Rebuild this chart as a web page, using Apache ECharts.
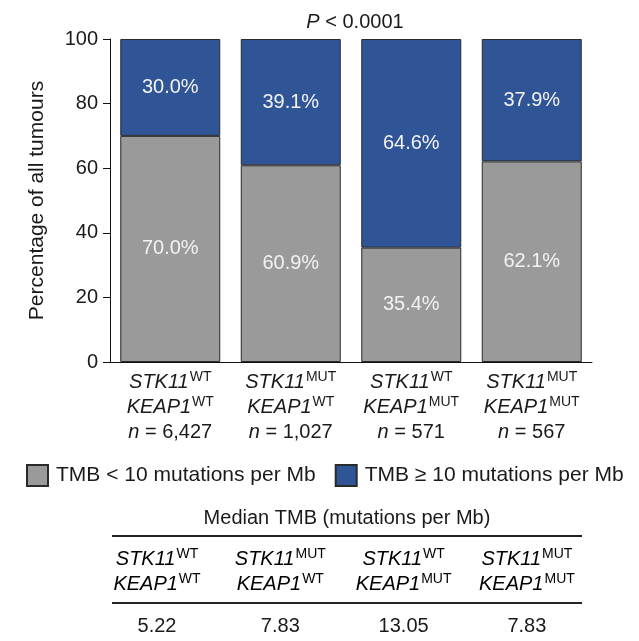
<!DOCTYPE html>
<html>
<head>
<meta charset="utf-8">
<script src="https://cdn.jsdelivr.net/npm/echarts@6/dist/echarts.min.js"></script>
<style>
  html, body { margin: 0; padding: 0; background: #ffffff; }
  #chart { width: 639px; height: 641px; }
</style>
</head>
<body>
<div id="chart"></div>
<script>
// ---- data ----
const stkStatus = ['WT', 'MUT', 'WT', 'MUT'];
const keapStatus = ['WT', 'WT', 'MUT', 'MUT'];
const nCounts = ['6,427', '1,027', '571', '567'];
const categories = ['STK11 WT / KEAP1 WT', 'STK11 MUT / KEAP1 WT', 'STK11 WT / KEAP1 MUT', 'STK11 MUT / KEAP1 MUT'];
const lowTMB = [70.0, 60.9, 35.4, 62.1];   // TMB < 10 mutations per Mb (%)
const highTMB = [30.0, 39.1, 64.6, 37.9];  // TMB >= 10 mutations per Mb (%)
const seriesNames = ['TMB < 10 mutations per Mb', 'TMB \u2265 10 mutations per Mb'];
const yTicks = [0, 20, 40, 60, 80, 100];
const medianTMB = ['5.22', '7.83', '13.05', '7.83'];
const pText = '< 0.0001';

// ---- style ----
const FONT = "'Liberation Sans', Arial, Helvetica, sans-serif";
const TXT = '#1a1a1a';
const GRAY = '#9a9a9a';
const BLUE = '#2f5597';
const EDGE = '#2a2a2a';

const chart = echarts.init(document.getElementById('chart'), null, { renderer: 'canvas' });

const geneRich = {
  g: { fontFamily: FONT, fontSize: 20, fontStyle: 'italic', color: TXT, lineHeight: 25 },
  s: { fontFamily: FONT, fontSize: 14, color: TXT, lineHeight: 16, verticalAlign: 'top', padding: [0, 0, 0, 1] },
  ni: { fontFamily: FONT, fontSize: 20, fontStyle: 'italic', color: TXT, lineHeight: 25 },
  nv: { fontFamily: FONT, fontSize: 20, color: TXT, lineHeight: 25 }
};

function barSeries(name, data, color) {
  return {
    name: name,
    type: 'bar',
    stack: 'total',
    data: data,
    barWidth: 100,
    itemStyle: { color: color, borderColor: EDGE, borderWidth: 1 },
    label: {
      show: true,
      position: 'inside',
      color: '#f2f2f2',
      fontFamily: FONT,
      fontSize: 20,
      formatter: p => p.value.toFixed(1) + '%'
    },
    emphasis: { disabled: true }
  };
}

// table graphics
const colStart = 157, colStep = 123.3;
const tableGraphics = [
  {
    type: 'text', x: 347, y: 518,
    style: { text: 'Median TMB (mutations per Mb)', font: '20px ' + FONT, fill: TXT, align: 'center', verticalAlign: 'middle' }
  },
  { type: 'line', shape: { x1: 112, y1: 536, x2: 582, y2: 536 }, style: { stroke: '#222', lineWidth: 2 } },
  { type: 'line', shape: { x1: 112, y1: 603, x2: 582, y2: 603 }, style: { stroke: '#222', lineWidth: 2 } }
];
medianTMB.forEach((v, i) => {
  const cx = colStart + i * colStep;
  tableGraphics.push({
    type: 'text', x: cx, y: 572,
    style: {
      text: '{g|STK11}{s|' + stkStatus[i] + '}\n{g|KEAP1}{s|' + keapStatus[i] + '}',
      rich: geneRich, align: 'center', verticalAlign: 'middle'
    }
  });
  tableGraphics.push({
    type: 'text', x: cx, y: 626,
    style: { text: v, font: '20px ' + FONT, fill: TXT, align: 'center', verticalAlign: 'middle' }
  });
});

const option = {
  backgroundColor: '#ffffff',
  animation: false,
  textStyle: { fontFamily: FONT },
  title: {
    text: '{i|P} ' + pText,
    left: 350, top: 7, textAlign: 'center',
    textStyle: {
      fontFamily: FONT, fontSize: 20, fontWeight: 'normal', color: TXT,
      rich: { i: { fontFamily: FONT, fontSize: 20, fontStyle: 'italic', color: TXT } }
    }
  },
  legend: {
    data: seriesNames,
    left: 26, top: 464,
    padding: 0,
    icon: 'rect',
    itemWidth: 21, itemHeight: 21,
    itemGap: 19,
    textStyle: { fontFamily: FONT, fontSize: 21, color: TXT, padding: [0, 0, 0, 3] },
    selectedMode: false
  },
  grid: { left: 110, right: 47, top: 39, bottom: 279, containLabel: false },
  xAxis: {
    type: 'category',
    data: categories,
    axisLine: { show: true, lineStyle: { color: '#111', width: 1 } },
    axisTick: { show: false },
    axisLabel: {
      margin: 8,
      interval: 0,
      formatter: (val, idx) => '{g|STK11}{s|' + stkStatus[idx] + '}\n{g|KEAP1}{s|' + keapStatus[idx] + '}\n{ni|n}{nv| = ' + nCounts[idx] + '}',
      rich: geneRich
    }
  },
  yAxis: {
    type: 'value',
    min: yTicks[0], max: yTicks[yTicks.length - 1], interval: 20,
    name: 'Percentage of all tumours',
    nameLocation: 'middle',
    nameGap: 62,
    nameTextStyle: { fontFamily: FONT, fontSize: 21, color: TXT },
    axisLine: { show: true, lineStyle: { color: '#111', width: 1 } },
    axisTick: { show: true, length: 7, lineStyle: { color: '#111' } },
    axisLabel: { fontFamily: FONT, fontSize: 20, color: TXT, margin: 12 },
    splitLine: { show: false }
  },
  series: [
    barSeries(seriesNames[0], lowTMB, GRAY),
    barSeries(seriesNames[1], highTMB, BLUE)
  ],
  graphic: tableGraphics
};

chart.setOption(option);
</script>
</body>
</html>
